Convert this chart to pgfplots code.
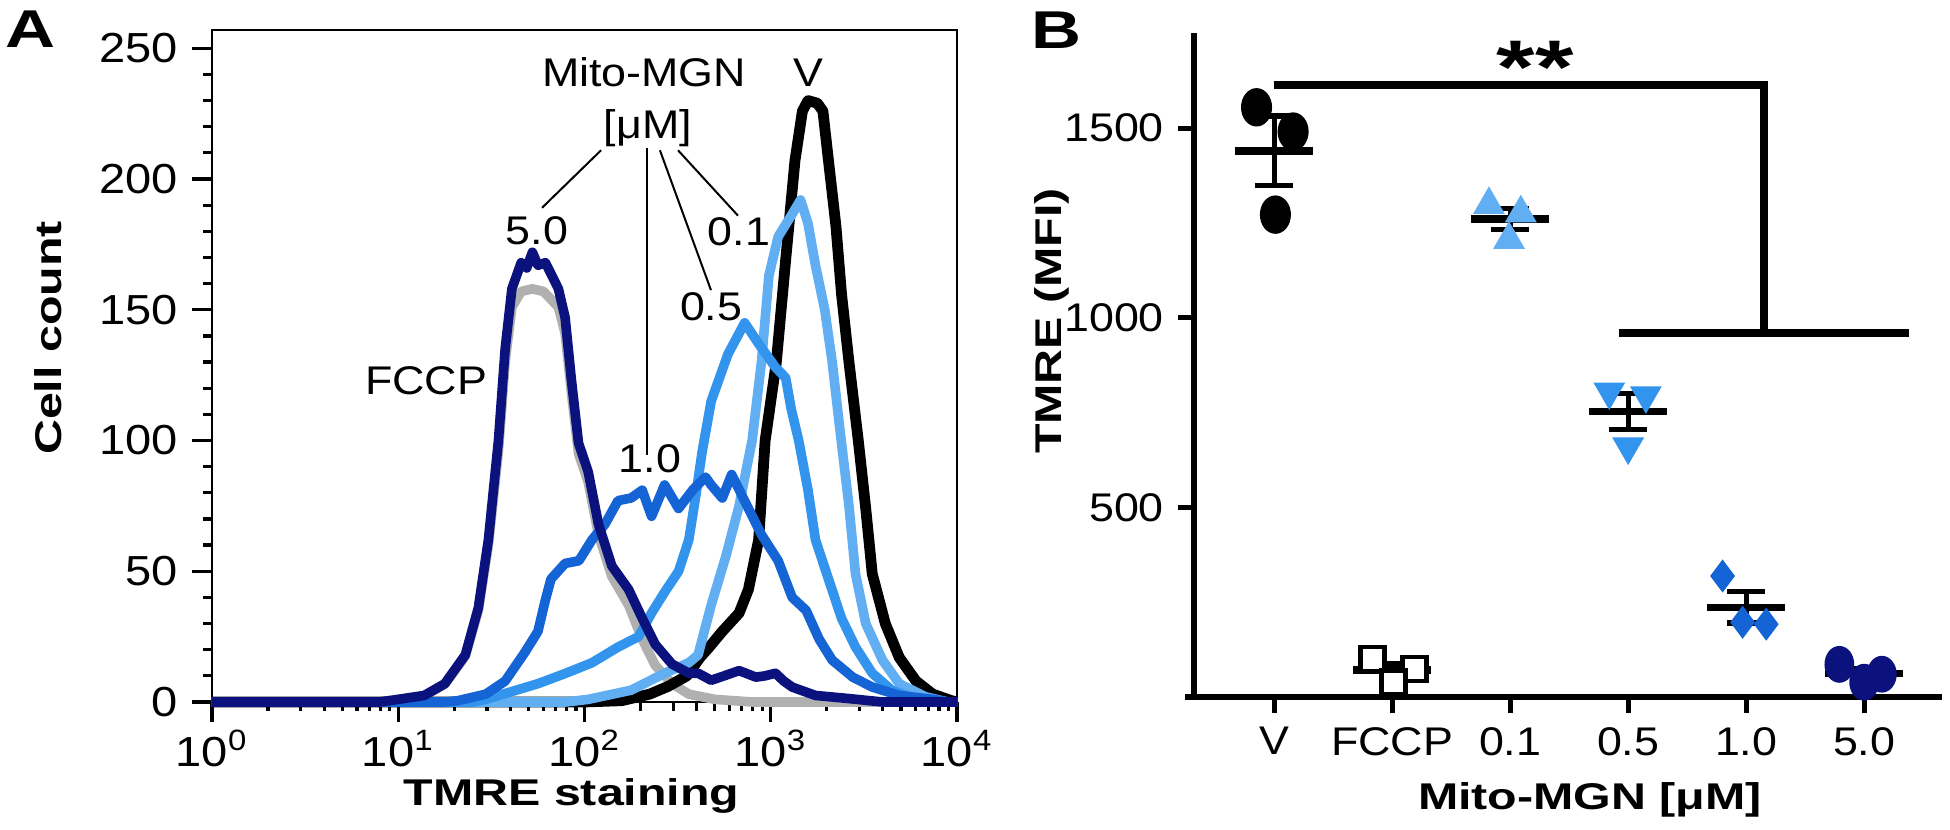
\documentclass[border=0pt]{standalone}
\usepackage{fontspec}
\setmainfont{Liberation Sans}[FakeStretch=1.12]
\newfontfamily\bfwide{Liberation Sans}[FakeStretch=1.3]
\usepackage{pgfplots}
\pgfplotsset{compat=1.18}
\definecolor{cA}{HTML}{62AEF2}
\definecolor{cB}{HTML}{3394EE}
\definecolor{cC}{HTML}{1464D6}
\definecolor{cD}{HTML}{0B127E}
\definecolor{cF}{HTML}{B0B0B0}
\begin{document}
\begin{tikzpicture}
\useasboundingbox (0,0) rectangle (487.5pt,207.5pt);
% ---------------- Panel A ----------------
\begin{axis}[at={(53pt,32pt)}, anchor=south west,
  width=186.25pt, height=168pt, scale only axis,
  xmin=0, xmax=4, ymin=0, ymax=257, clip=false,
  xtick={0,1,2,3,4},
  xticklabels={10\textsuperscript{0},10\textsuperscript{1},10\textsuperscript{2},10\textsuperscript{3},10\textsuperscript{4}},
  minor xtick={0.301,0.477,0.602,0.699,0.778,0.845,0.903,0.954,
    1.301,1.477,1.602,1.699,1.778,1.845,1.903,1.954,
    2.301,2.477,2.602,2.699,2.778,2.845,2.903,2.954,
    3.301,3.477,3.602,3.699,3.778,3.845,3.903,3.954},
  ytick={0,50,100,150,200,250}, minor y tick num=4,
  tick align=outside, xtick pos=bottom, ytick pos=left,
  major tick length=5pt, minor tick length=2.2pt,
  tick style={line width=0.8pt, black},
  axis line style={line width=0.7pt},
  /pgf/number format/assume math mode=true,
  tick label style={font=\fontsize{10.5}{12}\selectfont},
  xticklabel style={yshift=1.5pt},
  every axis plot/.append style={line join=round},
]
\addplot[cF, line width=2.4pt] coordinates {(0,0) (0.9,0) (1.0,1) (1.14,2.4) (1.25,6.8) (1.36,17.5) (1.43,35) (1.484,60) (1.538,96) (1.574,130) (1.61,151) (1.66,157) (1.72,158) (1.78,157) (1.86,151) (1.896,141) (1.93,118) (1.968,95) (2.02,84) (2.075,64) (2.147,48) (2.237,37) (2.31,24) (2.38,14) (2.47,7) (2.56,3) (2.7,1) (2.9,0) (4,0)};
\addplot[black, line width=2.7pt] coordinates {(0,0) (2.0,0) (2.2,0.5) (2.35,3) (2.45,6) (2.55,10) (2.62,17) (2.67,21) (2.74,27) (2.83,34) (2.88,43) (2.935,62) (2.97,100) (3.03,130) (3.08,169) (3.13,207) (3.17,226) (3.2,230) (3.25,229) (3.28,226) (3.31,207) (3.35,182) (3.38,156) (3.42,130) (3.47,100) (3.51,74) (3.545,49) (3.615,30) (3.69,17) (3.78,8) (3.87,3) (3.97,0.5) (4,0)};
\addplot[cA, line width=2.4pt] coordinates {(0,0) (1.9,0) (2.02,1) (2.25,4.5) (2.43,11) (2.56,15) (2.61,18) (2.68,37) (2.76,56) (2.83,75) (2.9,100) (2.95,130) (2.99,163) (3.04,178) (3.11,186) (3.16,192) (3.2,183) (3.24,167) (3.29,150) (3.33,130) (3.37,105) (3.42,75) (3.455,49) (3.51,30) (3.6,16) (3.69,7) (3.83,2) (3.95,0) (4,0)};
\addplot[cB, line width=2.4pt] coordinates {(0,0) (1.4,0) (1.47,1) (1.61,4) (1.75,7) (1.9,11) (2.04,15) (2.18,21) (2.29,25) (2.36,34) (2.43,42) (2.505,50) (2.56,62) (2.6,80) (2.63,95) (2.68,115) (2.77,133) (2.86,145) (2.935,137) (3.025,128) (3.08,124) (3.11,112) (3.15,100) (3.2,81) (3.24,62) (3.31,47) (3.38,32) (3.455,21) (3.545,11) (3.65,4.5) (3.78,1) (3.9,0) (4,0)};
\addplot[cC, line width=2.4pt] coordinates {(0,0) (1.25,0) (1.32,0.5) (1.47,3) (1.574,8) (1.68,19) (1.75,27) (1.79,39) (1.82,47) (1.896,53) (1.97,54) (2.04,62) (2.11,68) (2.18,77) (2.25,78) (2.31,81) (2.36,71) (2.43,83) (2.505,74) (2.58,81) (2.65,86) (2.68,83) (2.74,78) (2.79,87) (2.88,74) (2.95,64) (3.04,54) (3.115,40) (3.19,35) (3.26,24) (3.33,16) (3.44,9.5) (3.545,5.7) (3.69,2.5) (3.87,1) (3.95,0) (4,0)};
\addplot[cD, line width=2.4pt] coordinates {(0,0) (0.9,0) (1.0,1) (1.14,2.5) (1.25,7) (1.36,18) (1.43,36) (1.484,62) (1.538,100) (1.574,135) (1.61,158) (1.66,168) (1.69,166) (1.72,172) (1.75,167) (1.79,168) (1.86,158) (1.896,147) (1.93,123) (1.968,99) (2.02,88) (2.075,68) (2.147,52) (2.237,43) (2.31,32) (2.38,22) (2.47,14.5) (2.56,11) (2.61,11) (2.68,8.3) (2.75,10) (2.83,12) (2.92,9.5) (2.97,10) (3.025,11) (3.07,8) (3.115,5.7) (3.24,2.5) (3.42,1.3) (3.6,0) (4,0)};
% annotations
\draw[black, line width=0.5pt] (axis cs:2.089,211) -- (axis cs:1.772,189);
\draw[black, line width=0.5pt] (axis cs:2.336,212) -- (axis cs:2.336,94.4);
\draw[black, line width=0.5pt] (axis cs:2.405,211) -- (axis cs:2.679,157.5);
\draw[black, line width=0.5pt] (axis cs:2.502,211) -- (axis cs:2.824,186);
\begin{scope}[every node/.style={font=\fontsize{10}{12}\selectfont, inner sep=0pt}]
\node at (axis cs:2.32,241) {Mito-MGN};
\node at (axis cs:2.34,219.4) {[μM]};
\node at (axis cs:3.2,240.8) {V};
\node at (axis cs:1.745,180.4) {5.0};
\node at (axis cs:2.83,180) {0.1};
\node at (axis cs:2.68,151) {0.5};
\node at (axis cs:1.149,122.7) {FCCP};
\node at (axis cs:2.352,92.9) {1.0};
\end{scope}
\end{axis}
% ---------------- Panel B ----------------
\begin{axis}[at={(298.5pt,33.25pt)}, anchor=south west,
  width=187pt, height=165.9pt, scale only axis,
  xmin=-0.68, xmax=5.66, ymin=0, ymax=1750, clip=false,
  axis x line*=bottom, axis y line*=left,
  axis line style={line width=1.4pt, -},
  xtick={0,1,2,3,4,5}, xticklabels={V,FCCP,0.1,0.5,1.0,5.0},
  ytick={500,1000,1500}, yticklabels={500,1000,1500},
  tick align=outside, major tick length=4pt,
  tick style={line width=1.3pt, black},
  tick label style={font=\fontsize{10}{12}\selectfont},
  unbounded coords=jump,
]
\addplot[only marks, mark=*, mark size=4.6pt, mark options={xscale=0.8, fill=black, draw=black}] coordinates {(-0.15,1555) (0.16,1491) (0.01,1272)};
\addplot[only marks, mark=square*, mark size=3pt, mark options={fill=white, draw=black, line width=1.2pt}] coordinates {(0.83,100) (1.19,74) (1.01,39)};
\addplot[only marks, mark=triangle*, mark size=4.2pt, mark options={fill=cA, draw=cA}] coordinates {(1.82,1298) (2.09,1276) (1.99,1206)};
\addplot[only marks, mark=triangle*, mark size=4.2pt, mark options={rotate=180, fill=cB, draw=cB}] coordinates {(2.84,805) (3.15,795) (3.0,660)};
\addplot[only marks, mark=diamond*, mark size=3.8pt, mark options={fill=cC, draw=cC}] coordinates {(3.8,319) (3.97,197) (4.17,192)};
\addplot[only marks, mark=*, mark size=4.4pt, mark options={xscale=0.8, fill=cD, draw=cD}] coordinates {(4.79,86) (5.0,39) (5.15,60)};
% mean lines
\addplot[black, line width=1.9pt] coordinates {(-0.33,1440) (0.33,1440) (nan,nan) (0.67,71) (1.33,71) (nan,nan) (1.67,1260) (2.33,1260) (nan,nan) (2.67,753) (3.33,753) (nan,nan) (3.67,236) (4.33,236) (nan,nan) (4.67,62) (5.33,62)};
% error bars (SEM)
\addplot[black, line width=1.3pt] coordinates {(0,1348) (0,1532) (nan,nan) (-0.16,1348) (0.16,1348) (nan,nan) (-0.16,1532) (0.16,1532) (nan,nan)
 (1,53) (1,89) (nan,nan) (0.84,89) (1.16,89) (nan,nan)
 (2,1232) (2,1288) (nan,nan) (1.84,1232) (2.16,1232) (nan,nan) (1.84,1288) (2.16,1288) (nan,nan)
 (3,705) (3,801) (nan,nan) (2.84,705) (3.16,705) (nan,nan) (2.84,801) (3.16,801) (nan,nan)
 (4,195) (4,278) (nan,nan) (3.84,195) (4.16,195) (nan,nan) (3.84,278) (4.16,278) (nan,nan)
 (5,48) (5,76) (nan,nan) (4.84,76) (5.16,76)};
% significance bracket
\draw[black, line width=1.9pt, line join=miter] (axis cs:0,1614) -- (axis cs:4.15,1614) -- (axis cs:4.15,960);
\draw[black, line width=1.9pt] (axis cs:2.92,960) -- (axis cs:5.38,960);
\draw[black, line width=1.4pt] (axis cs:-0.76,0) -- (axis cs:-0.68,0);
\end{axis}
% ---------------- Titles ----------------
\node[font=\bfwide\bfseries\fontsize{13.3}{14}\selectfont] at (7.5pt,200.25pt) {A};
\node[font=\bfwide\bfseries\fontsize{13.3}{14}\selectfont] at (264pt,200pt) {B};
\node[font=\bfwide\bfseries\fontsize{9.3}{11}\selectfont, rotate=90] at (12pt,123pt) {Cell count};
\node[font=\bfwide\bfseries\fontsize{9.3}{11}\selectfont, anchor=base] at (142.9pt,6pt) {TMRE staining};
\node[font=\bfwide\bfseries\fontsize{9.3}{11}\selectfont, rotate=90] at (263pt,127.25pt) {TMRE (MFI)};
\node[font=\bfwide\bfseries\fontsize{9.3}{11}\selectfont, anchor=base] at (397.5pt,5pt) {Mito-MGN [μM]};
\node[font=\bfwide\bfseries\fontsize{19}{20}\selectfont, anchor=base, inner sep=0pt] at (383.75pt,184.1pt) {**};
\end{tikzpicture}
\end{document}
